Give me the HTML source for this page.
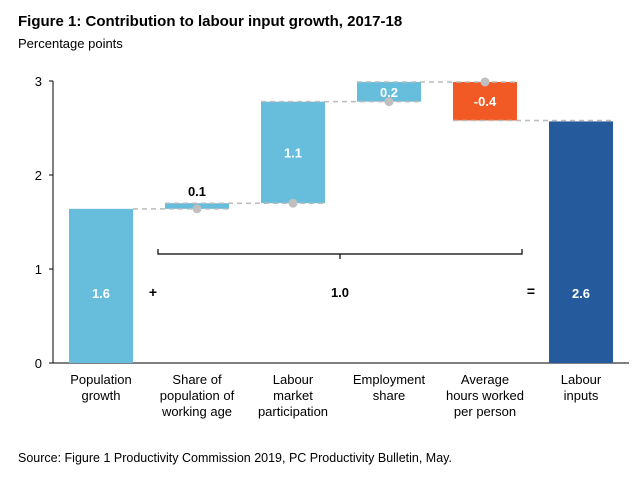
<!DOCTYPE html>
<html><head><meta charset="utf-8"><style>
body{margin:0;background:#fff;font-family:"Liberation Sans",Arial,sans-serif}
svg text{font-family:"Liberation Sans",Arial,sans-serif}
</style></head><body>
<svg id="c" width="636" height="485" xmlns="http://www.w3.org/2000/svg">
<text x="18" y="26" font-size="15" font-weight="bold" fill="#000">Figure 1: Contribution to labour input growth, 2017-18</text>
<text x="18" y="48" font-size="13" fill="#000">Percentage points</text>
<text x="18" y="462" font-size="12.5" fill="#000">Source: Figure 1 Productivity Commission 2019, PC Productivity Bulletin, May.</text>
<g id="plot"></g>
</svg>
<script>
const categories=[["Population","growth"],["Share of","population of","working age"],["Labour","market","participation"],["Employment","share"],["Average","hours worked","per person"],["Labour","inputs"]];
const values=[1.64,0.06,1.08,0.21,-0.41,2.57];
const labels=["1.6","0.1","1.1","0.2","-0.4","2.6"];
const kinds=["total","step","step","step","step","total"];
const yTicks=[0,1,2,3];
const braceLabel="1.0";

const NS="http://www.w3.org/2000/svg";
const g=document.getElementById('plot');
const y0=363,pxPer=94,x0=101,step=96,bw=64;
const Y=v=>y0-v*pxPer;
const X=i=>x0+i*step;
function el(t,a,txt){const e=document.createElementNS(NS,t);for(const k in a)e.setAttribute(k,a[k]);if(txt!==undefined)e.textContent=txt;g.appendChild(e);return e;}
let ax=el('line',{x1:53,x2:53,y1:Y(3),y2:y0,stroke:'#000','stroke-width':1});


yTicks.forEach(t=>{
 let l=el('line',{x1:49,x2:53,y1:Y(t),y2:Y(t),stroke:'#000'});
 
 
 let tx=el('text',{x:42,y:Y(t)+5,'font-size':13,'text-anchor':'end'},String(t));
 
 
});
let xa=el('line',{x1:53,x2:629,y1:y0,y2:y0,stroke:'#000'});


let cum=0;const tops=[];
values.forEach((v,i)=>{
 let a,b,col;
 if(kinds[i]==='total'){a=0;b=v;cum=v;col=i===0?'#67bddc':'#255b9c';}
 else{a=cum;b=cum+v;cum=b;col=v<0?'#f15a24':'#67bddc';}
 tops.push({i,a,b,end:cum});
 const yt=Y(Math.max(a,b)),yb=Y(Math.min(a,b));
 let r=el('rect',{x:X(i)-bw/2,y:yt,width:bw,height:yb-yt,fill:col});
 
 
 let ly,fc;
 if(kinds[i]==='total'){ly=298;fc='#fff';}
 else if(Math.abs(v)<0.1){ly=yt-7;fc='#000';}
 else{ly=(yt+yb)/2+5;fc='#fff';}
 let t=el('text',{x:X(i),y:ly,'font-size':13,'font-weight':'bold','text-anchor':'middle',fill:fc},labels[i]);
 
 
 categories[i].forEach((ln,k)=>{
  let c=el('text',{x:X(i),y:384+k*16,'font-size':13,'text-anchor':'middle'},ln);
  
  
 });
});
for(let i=0;i<values.length-1;i++){
 const lvl=tops[i].end;
 let d=el('line',{x1:X(i)+bw/2-(i===0?0:bw),x2:X(i+1)+bw/2,y1:Y(lvl),y2:Y(lvl),stroke:'#bbb','stroke-width':1.5,'stroke-dasharray':'5,4'});
 
 
 if(i+1<values.length-1){
  let p=el('circle',{cx:X(i+1),cy:Y(lvl),r:4.5,fill:'#bfbfbf'});
  
  
 }
}
let br=el('path',{d:'M158 249 V254 H522 V249 M340 254 V259',fill:'none',stroke:'#000','stroke-width':1.2});


let bt=el('text',{x:340,y:297,'font-size':13,'font-weight':'bold','text-anchor':'middle'},braceLabel);


let pl=el('text',{x:153,y:297,'font-size':14,'font-weight':'bold','text-anchor':'middle'},'+');


let eq=el('text',{x:531,y:296,'font-size':14,'font-weight':'bold','text-anchor':'middle'},'=');


</script>
</body></html>
